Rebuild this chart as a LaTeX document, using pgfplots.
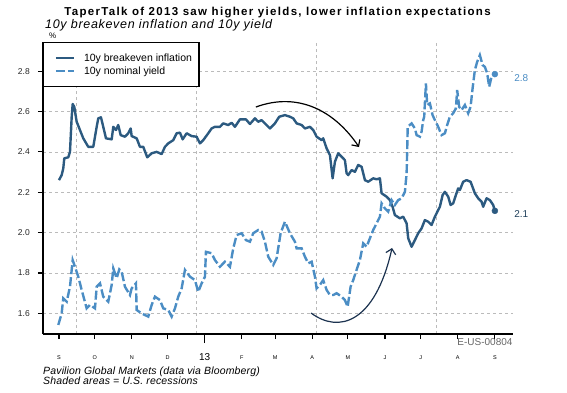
\documentclass[border=0pt]{standalone}
\usepackage{pgfplots}
\pgfplotsset{compat=1.18}
\usepackage{fontspec}
\setmainfont{Liberation Sans}
\usetikzlibrary{arrows.meta}
\definecolor{bei}{HTML}{2C5A80}
\definecolor{nyl}{HTML}{4B8DC4}
\definecolor{gridc}{HTML}{BBBBBB}
\definecolor{arrnavy}{HTML}{1C3350}
\begin{document}
\begin{tikzpicture}[x=1pt,y=1pt]
\path[use as bounding box] (0,0) rectangle (567,392);
\node[anchor=base, font=\bfseries\fontsize{11.5}{13}\selectfont\addfontfeatures{LetterSpace=11.5}] at (277.5,377) {TaperTalk of 2013 saw higher yields, lower inflation expectations};
\node[anchor=base west, inner sep=0pt, font=\itshape\fontsize{12.5}{14}\selectfont\addfontfeatures{LetterSpace=5.5}] at (45,363.7) {10y breakeven inflation and 10y yield};
\node[anchor=base west, inner sep=0pt, font=\fontsize{8}{9}\selectfont] at (49,353) {\%};
\node[anchor=base west, inner sep=0pt, font=\itshape\fontsize{10.5}{12}\selectfont\addfontfeatures{LetterSpace=1.5}] at (43,18) {Pavilion Global Markets (data via Bloomberg)};
\node[anchor=base west, inner sep=0pt, font=\itshape\fontsize{10.5}{12}\selectfont\addfontfeatures{LetterSpace=1.5}] at (43,8) {Shaded areas = U.S. recessions};
\begin{axis}[
  at={(43pt,58pt)}, anchor=south west,
  scale only axis, width=470pt, height=292pt,
  xmin=-0.44, xmax=12.5, ymin=1.498, ymax=2.944,
  axis x line*=bottom, axis y line*=left,
  axis line style={-, black, line width=1.3pt},
  tick align=outside, major tick length=5pt,
  tick style={black, line width=1.1pt},
  xtick={0,0.986,2.005,2.992,5.030,5.950,6.969,7.955,8.975,9.961,10.980,12.0},
  xticklabels={S,O,N,D,F,M,A,M,J,J,A,S},
  xticklabel style={anchor=center, font=\fontsize{5.5}{6}\selectfont},
  xticklabel shift=19pt,
  extra x ticks={4.011}, extra x tick labels={13},
  extra x tick style={major tick length=9pt, xticklabel style={font=\fontsize{10}{10}\selectfont}, xticklabel shift=14pt, grid=none},
  minor xtick={0.468,3.771,7.074,10.377}, minor tick length=0pt,
  xminorgrids=true, xmajorgrids=false,
  ytick={1.6,1.8,2.0,2.2,2.4,2.6,2.8},
  yticklabels={1.6,1.8,2.0,2.2,2.4,2.6,2.8},
  yticklabel style={anchor=east, inner sep=0pt, font=\fontsize{8.5}{9}\selectfont, text=black!85},
  yticklabel shift=8pt,
  ymajorgrids=true,
  grid style={gridc, dash pattern=on 3pt off 3pt, line width=0.6pt},
  minor grid style={gridc, dash pattern=on 3pt off 3pt, line width=0.6pt},
  clip=false,
  legend style={at={(0,1)}, anchor=north west, draw=black, line width=1.2pt, fill=white,
    font=\fontsize{10.5}{12}\selectfont, inner xsep=5pt, inner ysep=9pt,
    cells={anchor=west}, row sep=0pt,
    /tikz/every even column/.append style={column sep=6pt}},
  legend image code/.code={\path (0pt,0pt) (31pt,0pt); \draw[#1] (6pt,0pt) -- (24pt,0pt);},
]
\addplot[bei, line width=2.4pt, line join=round] coordinates {
(0,2.260)(0.074,2.285)(0.118,2.318)(0.146,2.368)(0.256,2.373)(0.303,2.400)(0.350,2.574)(0.377,2.637)(0.421,2.623)(0.487,2.549)
(0.578,2.508)(0.669,2.467)(0.806,2.425)(0.944,2.425)(1.038,2.524)(1.082,2.566)(1.156,2.571)(1.219,2.524)(1.294,2.467)(1.451,2.462)
(1.495,2.524)(1.569,2.508)(1.632,2.533)(1.698,2.483)(1.817,2.475)(1.907,2.492)(1.974,2.516)(2.001,2.478)(2.139,2.467)(2.229,2.425)
(2.320,2.425)(2.430,2.373)(2.552,2.393)(2.689,2.400)(2.827,2.389)(2.918,2.425)(3.009,2.442)(3.146,2.458)(3.240,2.492)(3.331,2.495)
(3.405,2.462)(3.515,2.492)(3.653,2.478)(3.790,2.475)(3.881,2.442)(3.972,2.458)(4.110,2.492)(4.203,2.516)(4.294,2.524)(4.432,2.524)
(4.522,2.541)(4.660,2.533)(4.754,2.544)(4.844,2.524)(4.982,2.561)(5.147,2.561)(5.257,2.538)(5.395,2.566)(5.486,2.549)(5.579,2.557)
(5.670,2.541)(5.808,2.516)(5.945,2.541)(6.064,2.574)(6.221,2.582)(6.358,2.574)(6.449,2.566)(6.543,2.541)(6.680,2.533)(6.771,2.516)
(6.909,2.524)(7.000,2.508)(7.093,2.475)(7.231,2.458)(7.275,2.467)(7.369,2.417)(7.460,2.384)(7.534,2.269)(7.597,2.351)(7.688,2.393)
(7.781,2.376)(7.872,2.359)(7.919,2.294)(7.963,2.285)(8.057,2.310)(8.147,2.301)(8.238,2.335)(8.332,2.326)(8.423,2.260)(8.514,2.252)
(8.651,2.269)(8.745,2.264)(8.836,2.269)(8.882,2.195)(9.020,2.178)(9.111,2.161)(9.185,2.128)(9.248,2.087)(9.386,2.071)(9.477,2.079)
(9.571,2.046)(9.615,1.972)(9.708,1.930)(9.799,1.963)(9.890,1.997)(9.983,2.021)(10.074,2.062)(10.165,2.054)(10.259,2.038)(10.350,2.079)
(10.440,2.112)(10.487,2.128)(10.562,2.186)(10.625,2.202)(10.716,2.178)(10.781,2.137)(10.853,2.145)(10.927,2.186)(10.991,2.219)(11.037,2.211)
(11.128,2.252)(11.222,2.260)(11.332,2.252)(11.450,2.195)(11.541,2.170)(11.635,2.153)(11.679,2.128)(11.772,2.170)(11.863,2.161)(11.954,2.137)
(12.001,2.108)
};
\addlegendentry{10y breakeven inflation}
\addplot[nyl, line width=2.4pt, dash pattern=on 9pt off 3pt] coordinates {
(-0.019,1.543)(0.074,1.600)(0.118,1.675)(0.212,1.658)(0.303,1.732)(0.377,1.864)(0.440,1.831)(0.531,1.782)(0.625,1.716)(0.762,1.625)
(0.853,1.642)(0.991,1.625)(1.038,1.732)(1.129,1.749)(1.219,1.683)(1.357,1.658)(1.451,1.741)(1.495,1.823)(1.588,1.774)(1.660,1.818)
(1.726,1.806)(1.817,1.732)(1.954,1.691)(2.001,1.724)(2.119,1.749)(2.139,1.617)(2.276,1.600)(2.458,1.584)(2.552,1.642)(2.642,1.683)
(2.780,1.666)(2.871,1.625)(3.009,1.617)(3.102,1.584)(3.193,1.625)(3.284,1.683)(3.377,1.724)(3.468,1.815)(3.606,1.782)(3.743,1.765)
(3.834,1.707)(3.928,1.749)(4.019,1.782)(4.046,1.905)(4.203,1.898)(4.294,1.864)(4.432,1.831)(4.569,1.856)(4.707,1.831)(4.798,1.922)
(4.891,1.988)(5.029,1.997)(5.147,1.963)(5.257,1.955)(5.348,1.997)(5.486,2.013)(5.579,2.005)(5.670,1.955)(5.761,1.881)(5.899,1.840)
(5.992,1.873)(6.102,1.997)(6.221,2.054)(6.358,1.997)(6.496,1.955)(6.543,1.922)(6.680,1.922)(6.771,1.881)(6.862,1.848)(6.956,1.856)
(7.047,1.782)(7.093,1.724)(7.184,1.741)(7.275,1.765)(7.369,1.716)(7.460,1.691)(7.550,1.691)(7.644,1.700)(7.781,1.683)(7.872,1.666)
(7.947,1.633)(8.029,1.732)(8.101,1.765)(8.175,1.806)(8.285,1.864)(8.376,1.947)(8.469,1.930)(8.560,1.972)(8.651,2.013)(8.789,2.062)
(8.836,2.079)(8.882,2.145)(8.973,2.120)(9.064,2.104)(9.158,2.161)(9.248,2.137)(9.339,2.161)(9.433,2.170)(9.524,2.202)(9.571,2.294)
(9.587,2.409)(9.601,2.524)(9.708,2.541)(9.799,2.516)(9.846,2.483)(9.937,2.475)(9.983,2.500)(10.028,2.557)(10.055,2.574)(10.102,2.739)
(10.138,2.632)(10.212,2.640)(10.286,2.582)(10.350,2.557)(10.440,2.524)(10.534,2.483)(10.625,2.492)(10.688,2.533)(10.762,2.574)(10.853,2.591)
(10.927,2.615)(10.963,2.706)(11.018,2.623)(11.084,2.607)(11.175,2.632)(11.266,2.591)(11.332,2.623)(11.387,2.714)(11.450,2.805)(11.514,2.846)
(11.588,2.879)(11.662,2.830)(11.725,2.821)(11.789,2.789)(11.844,2.722)(11.910,2.772)(12.001,2.785)
};
\addlegendentry{10y nominal yield}
\addplot[only marks, mark=*, mark size=3pt, bei, forget plot] coordinates {(12.001,2.108)};
\addplot[only marks, mark=*, mark size=3pt, nyl, forget plot] coordinates {(12.001,2.785)};
\node[text=nyl, font=\fontsize{10}{12}\selectfont] at (axis cs:12.73,2.765) {2.8};
\node[text=bei!70!black, font=\fontsize{10}{12}\selectfont] at (axis cs:12.73,2.092) {2.1};
\node[anchor=east, inner sep=0pt, text=black!60, font=\fontsize{10}{12}\selectfont] at (axis cs:12.49,1.459) {E-US-00804};
\draw[black, line width=1.2pt, -{Straight Barb[length=5pt,width=10pt]}] (axis cs:5.42,2.622) .. controls (axis cs:6.6,2.70) and (axis cs:7.6,2.60) .. (axis cs:8.26,2.424);
\draw[arrnavy, line width=1.2pt, -{Straight Barb[length=5pt,width=10pt]}] (axis cs:6.94,1.602) .. controls (axis cs:7.7,1.50) and (axis cs:8.7,1.55) .. (axis cs:9.17,1.924);
\end{axis}
\end{tikzpicture}
\end{document}
